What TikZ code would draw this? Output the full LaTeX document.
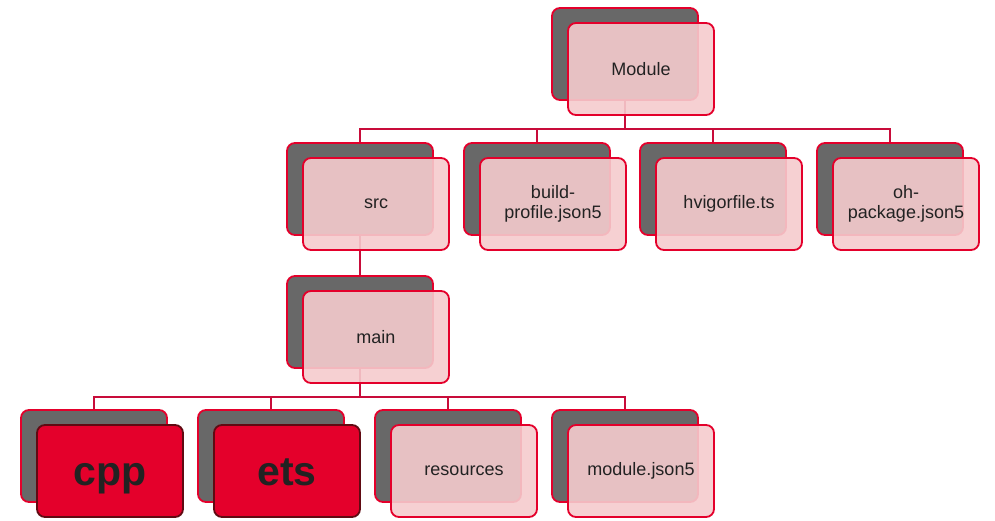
\documentclass[tikz,border=0pt]{standalone}
\usepackage{fontspec}
\setmainfont{Liberation Sans}
\definecolor{boxred}{RGB}{228,0,43}
\definecolor{linkred}{RGB}{200,12,58}
\definecolor{shadowgray}{RGB}{104,104,104}
\definecolor{cardpink}{RGB}{245,203,205}
\definecolor{darkrim}{RGB}{96,10,18}
\definecolor{inktext}{RGB}{34,34,34}
\tikzset{
  backcard/.style={draw=boxred, fill=shadowgray, line width=1.8pt,
    rounded corners=8pt, minimum width=146pt, minimum height=92pt, inner sep=0pt},
  frontcard/.style={draw=boxred, fill=cardpink, fill opacity=0.9, text opacity=1,
    line width=1.8pt, rounded corners=8pt, minimum width=146pt, minimum height=92pt,
    inner sep=0pt, align=center, text=inktext,
    font=\fontsize{18}{19.5}\selectfont},
  hotcard/.style={draw=darkrim, fill=boxred, line width=1.8pt,
    rounded corners=8pt, minimum width=146pt, minimum height=92pt, inner sep=0pt,
    text height=29pt, text depth=0pt,
    text=inktext, font=\fontsize{41}{44}\selectfont\bfseries},
  link/.style={draw=linkred, line width=1.8pt},
}
\begin{document}
\begin{tikzpicture}[x=1pt, y=-1pt]
\useasboundingbox (0,0) rectangle (995,521);

% bus levels
\coordinate (busA) at (0,129);
\coordinate (busB) at (0,397);

% back cards
\node[backcard] (moduleB)  at (625,54)  {};
\node[backcard] (srcB)     at (360,189) {};
\node[backcard] (buildB)   at (537,189) {};
\node[backcard] (hvigorB)  at (713,189) {};
\node[backcard] (ohpkgB)   at (890,189) {};
\node[backcard] (mainB)    at (360,322) {};
\node[backcard] (cppB)     at (94,456)  {};
\node[backcard] (etsB)     at (271,456) {};
\node[backcard] (resB)     at (448,456) {};
\node[backcard] (mjsonB)   at (625,456) {};

% connectors
\begin{scope}[link]
  \foreach \c in {srcB,buildB,hvigorB,ohpkgB}
    \draw (moduleB.south) -- (moduleB.south |- busA) -| (\c.north);
  \draw (srcB.south) -- (mainB.north);
  \foreach \c in {cppB,etsB,resB,mjsonB}
    \draw (mainB.south) -- (mainB.south |- busB) -| (\c.north);
\end{scope}

% front cards
\node[frontcard] (module) at (641,69)  {Module};
\node[frontcard] (src)    at (376,204) {src};
\node[frontcard] (build)  at (553,204) {build-\\profile.json5};
\node[frontcard] (hvigor) at (729,204) {hvigorfile.ts};
\node[frontcard] (ohpkg)  at (906,204) {oh-\\package.json5};
\node[frontcard] (main)   at (376,337) {main};
\node[hotcard]   (cpp)    at (110,471) {cpp};
\node[hotcard]   (ets)    at (287,471) {ets};
\node[frontcard] (res)    at (464,471) {resources};
\node[frontcard] (mjson)  at (641,471) {module.json5};
\end{tikzpicture}
\end{document}
